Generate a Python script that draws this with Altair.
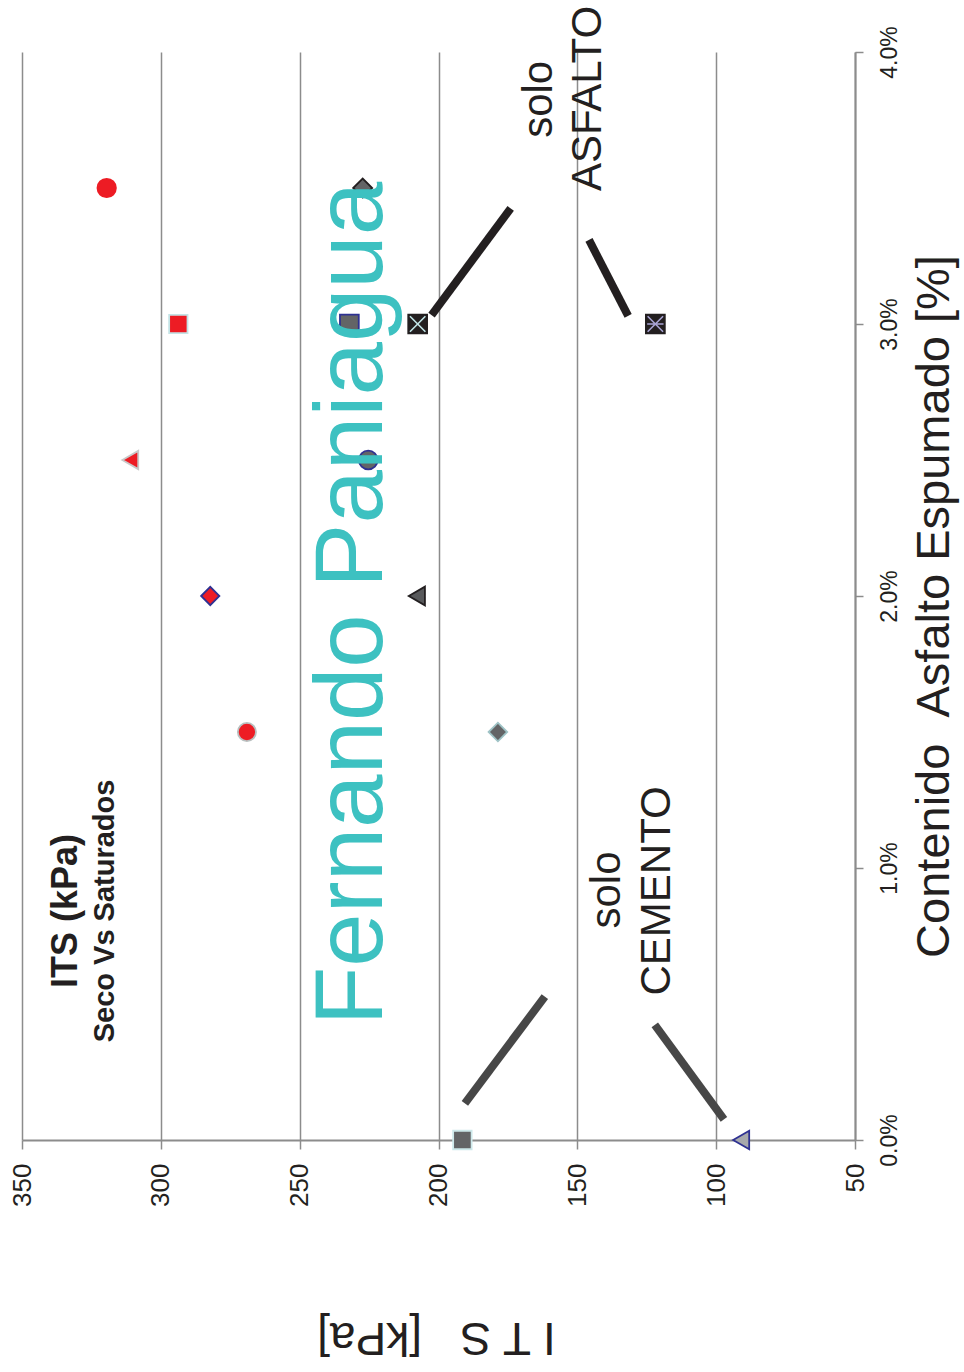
import altair as alt
import pandas as pd

# ---- Probetas: contenido de asfalto espumado (fracción) e ITS (kPa) ----
serie = [
    "Seco 1,5%", "Seco 2,0%", "Seco 2,5%", "Seco 3,0%", "Seco 3,5%",
    "Cemento A", "Cemento B",
    "Saturado 1,5%", "Saturado 2,0%", "Saturado 2,5%", "Saturado 3,0%",
    "Asfalto A", "Asfalto B", "Saturado 3,5%",
]
contenido = [0.015, 0.020, 0.025, 0.030, 0.035,
             0.000, 0.000,
             0.015, 0.020, 0.025, 0.030,
             0.030, 0.030, 0.035]
its_kpa = [269.0, 282.2, 311.0, 293.7, 319.5,
           191.4, 91.0,
           178.6, 207.8, 225.3, 232.1,
           207.5, 121.9, 227.3]

# ---- Ejes ----
its_ticks = [50, 100, 150, 200, 250, 300, 350]
pct_ticks = [0.0, 0.01, 0.02, 0.03, 0.04]

# ---- Trazos de las llamadas (ITS inicio, % inicio, ITS fin, % fin) ----
llamada_grupo = ["asfalto", "asfalto", "cemento", "cemento"]
llamada_its1 = [202.5, 145.8, 190.5, 122.1]
llamada_pct1 = [0.03033, 0.03309, 0.00135, 0.00423]
llamada_its2 = [174.0, 131.7, 161.7, 97.2]
llamada_pct2 = [0.03425, 0.03030, 0.00527, 0.00076]

# ---- Textos de las llamadas ----
nota_texto = ["solo", "ASFALTO", "solo", "CEMENTO"]
nota_its = [159.3, 141.3, 134.7, 116.7]
nota_pct = [0.03826, 0.03829, 0.00919, 0.00916]

titulo_texto = ["ITS (kPa)", "Seco Vs Saturados"]
titulo_its = [330.2, 316.9]
titulo_pct = [0.00842, 0.00842]

firma_texto = ["Fernando Paniagua"]
firma_its = [220.4]
firma_pct = [0.01972]

# ---- Estilo de cada serie ----
RED, NAVY, BLACK = "#ed1c24", "#2e3192", "#231f20"
estilo = {
    "Seco 1,5%":     ("circle",        RED,       "#b9c0c0", 330),
    "Seco 2,0%":     ("diamond",       RED,       NAVY,      360),
    "Seco 2,5%":     ("triangle-left", RED,       "#c9c9c9", 360),
    "Seco 3,0%":     ("square",        RED,       "#c4e4e6", 360),
    "Seco 3,5%":     ("circle",        RED,       RED,       250),
    "Cemento A":     ("square",        "#636466", "#cde8ea", 340),
    "Cemento B":     ("triangle-left", "#a7a9ac", NAVY,      380),
    "Saturado 1,5%": ("diamond",       "#636466", "#9fc3c6", 300),
    "Saturado 2,0%": ("triangle-left", "#58595b", BLACK,     380),
    "Saturado 2,5%": ("circle",        "#636466", NAVY,      330),
    "Saturado 3,0%": ("square",        "#636466", NAVY,      340),
    "Asfalto A":     ("square",        BLACK,     BLACK,     340),
    "Asfalto B":     ("square",        BLACK,     BLACK,     300),
    "Saturado 3,5%": ("diamond",       "#636466", BLACK,     380),
}
dom = list(estilo.keys())
shape_sc = alt.Scale(domain=dom, range=[estilo[k][0] for k in dom])
fill_sc = alt.Scale(domain=dom, range=[estilo[k][1] for k in dom])
stroke_sc = alt.Scale(domain=dom, range=[estilo[k][2] for k in dom])
size_sc = alt.Scale(domain=dom, range=[estilo[k][3] for k in dom])

# Cruces dibujadas dentro de los cuadrados de "solo asfalto"
cruz_dom = ["Asfalto A", "Asfalto B"]
cruz_shape = alt.Scale(domain=cruz_dom, range=[
    "M-0.85,-0.85L0.85,0.85M-0.85,0.85L0.85,-0.85",
    "M-0.85,-0.85L0.85,0.85M-0.85,0.85L0.85,-0.85M-0.9,0L0.9,0",
])
cruz_color = alt.Scale(domain=cruz_dom, range=["#c2e6e8", "#a9a4d4"])

puntos = pd.DataFrame({"serie": serie, "pct": contenido, "its": its_kpa})
llamadas = pd.DataFrame({"grupo": llamada_grupo, "its1": llamada_its1, "pct1": llamada_pct1,
                         "its2": llamada_its2, "pct2": llamada_pct2})
notas = pd.DataFrame({"t": nota_texto, "its": nota_its, "pct": nota_pct})
titulo1 = pd.DataFrame({"t": titulo_texto[:1], "its": titulo_its[:1], "pct": titulo_pct[:1]})
titulo2 = pd.DataFrame({"t": titulo_texto[1:], "its": titulo_its[1:], "pct": titulo_pct[1:]})
firma = pd.DataFrame({"t": firma_texto, "its": firma_its, "pct": firma_pct})

FONT = "Liberation Sans"
GRID = "#8c8c8c"

x_enc = alt.X(
    "its:Q",
    scale=alt.Scale(domain=[50, 350], reverse=True, nice=False, zero=False),
    axis=alt.Axis(
        values=its_ticks, format="d", grid=True, gridColor=GRID, gridWidth=1.5,
        domainColor=GRID, domainWidth=2, tickColor=GRID, tickWidth=1.5, tickSize=9,
        labelAngle=270, labelAlign="right", labelBaseline="middle",
        labelFont=FONT, labelFontSize=26, labelColor=BLACK, labelPadding=14,
        labelOverlap=False, labelFlush=False,
        title="I T S\u00a0\u00a0\u00a0[kPa]", titleAngle=180, titleAlign="center",
        titleBaseline="alphabetic", titleX=414, titleY=182,
        titleFont=FONT, titleFontSize=46, titleFontWeight="normal", titleColor=BLACK,
    ),
)
y_enc = alt.Y(
    "pct:Q",
    scale=alt.Scale(domain=[0, 0.04], nice=False, zero=False),
    axis=alt.Axis(
        orient="right", values=pct_ticks, format=".1%", grid=False,
        domainColor=GRID, domainWidth=2, tickColor=GRID, tickWidth=1.5, tickSize=8,
        labelAngle=270, labelAlign="center", labelBaseline="top",
        labelFont=FONT, labelFontSize=23, labelColor=BLACK, labelPadding=15,
        labelOverlap=False, labelFlush=False,
        title="Contenido\u00a0\u00a0Asfalto Espumado [%]", titleAngle=270,
        titleAlign="center", titleBaseline="alphabetic", titleX=93, titleY=554,
        titleFont=FONT, titleFontSize=47, titleFontWeight="normal", titleColor=BLACK,
    ),
)

marcadores = alt.Chart(puntos).mark_point(filled=True, opacity=1, strokeWidth=1.8).encode(
    x=x_enc, y=y_enc,
    shape=alt.Shape("serie:N", scale=shape_sc, legend=None),
    fill=alt.Fill("serie:N", scale=fill_sc, legend=None),
    stroke=alt.Stroke("serie:N", scale=stroke_sc, legend=None),
    size=alt.Size("serie:N", scale=size_sc, legend=None),
)

cruces = alt.Chart(puntos).transform_filter(
    alt.FieldOneOfPredicate(field="serie", oneOf=cruz_dom)
).mark_point(filled=False, opacity=1, strokeWidth=1.6, size=330).encode(
    x="its:Q", y="pct:Q",
    shape=alt.Shape("serie:N", scale=cruz_shape, legend=None),
    stroke=alt.Stroke("serie:N", scale=cruz_color, legend=None),
)

trazos = alt.Chart(llamadas).mark_rule(strokeWidth=8, strokeCap="butt").encode(
    x="its1:Q", y="pct1:Q", x2="its2:Q", y2="pct2:Q",
    color=alt.Color("grupo:N", scale=alt.Scale(domain=["asfalto", "cemento"],
                                               range=[BLACK, "#474747"]), legend=None),
)

txt_notas = alt.Chart(notas).mark_text(
    angle=270, align="center", baseline="alphabetic",
    font=FONT, fontSize=42, color=BLACK,
).encode(x="its:Q", y="pct:Q", text="t:N")

txt_t1 = alt.Chart(titulo1).mark_text(
    angle=270, align="center", baseline="alphabetic",
    font=FONT, fontSize=36, fontWeight="bold", color=BLACK,
).encode(x="its:Q", y="pct:Q", text="t:N")

txt_t2 = alt.Chart(titulo2).mark_text(
    angle=270, align="center", baseline="alphabetic",
    font=FONT, fontSize=29, fontWeight="bold", color=BLACK,
).encode(x="its:Q", y="pct:Q", text="t:N")

txt_firma = alt.Chart(firma).mark_text(
    angle=270, align="center", baseline="alphabetic",
    font=FONT, fontSize=96, color="#3dc1c1",
).encode(x="its:Q", y="pct:Q", text="t:N")

chart = alt.layer(
    marcadores, cruces, trazos, txt_notas, txt_t1, txt_t2, txt_firma
).resolve_scale(
    shape="independent", stroke="independent", color="independent"
).properties(
    width=833, height=1088,
    padding={"left": 22, "top": 52, "right": 109, "bottom": 232},
    autosize=alt.AutoSizeParams(type="none"),
    background="white",
).configure_view(stroke=None)

chart.save("out.html", embed_options={"renderer": "svg", "actions": False})
